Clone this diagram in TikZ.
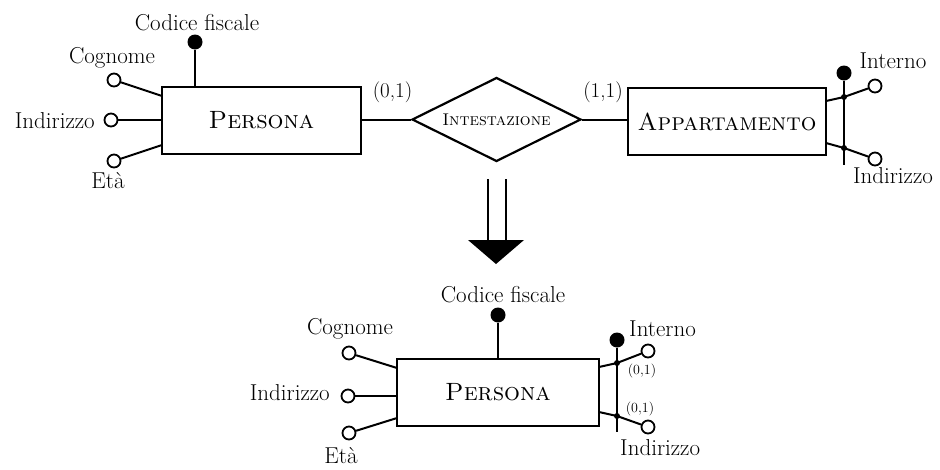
\documentclass[tikz,border=0pt]{standalone}
\usetikzlibrary{shapes.geometric}
\begin{document}
\begin{tikzpicture}[x=1pt,y=-1pt,
  lbl/.style={font=\fontsize{23}{26}\selectfont, inner sep=0pt, anchor=base},
  ent/.style={draw, line width=2.2pt, inner sep=0pt, minimum height=67pt,
              font=\fontsize{25}{28}\selectfont},
  rel/.style={diamond, draw, line width=2.2pt, inner sep=0pt, aspect=2,
              minimum width=169pt, minimum height=84pt,
              font=\fontsize{17}{20}\selectfont},
  attr/.style={circle, draw, fill=white, line width=1.8pt, minimum size=13pt, inner sep=0pt},
  keyattr/.style={circle, fill=black, minimum size=15pt, inner sep=0pt},
  junct/.style={circle, fill=black, minimum size=6pt, inner sep=0pt},
  link/.style={line width=2pt},
  card/.style={font=\fontsize{21}{24}\selectfont, inner sep=0pt, anchor=base},
  smallcard/.style={font=\fontsize{14}{16}\selectfont, inner sep=0pt, anchor=base}]
\useasboundingbox (0,0) rectangle (940,469);

% ---------------- upper schema ----------------
\node[ent, minimum width=199pt] (pers) at (261.5,120.5) {\textsc{Persona}};
\node[rel] (inte) at (496.5,119.5) {\textsc{Intestazione}};
\node[ent, minimum width=198pt, font=\fontsize{24.5}{28}\selectfont] (app) at (727,121.5) {\textsc{Appartamento}};

\draw[link] (pers.east |- inte.west) -- (inte.west);
\draw[link] (inte.east) -- (app.west |- inte.east);
\node[card] (c1) at (392.5,97) {(0,1)};
\node[card] (c2) at (603,97) {(1,1)};

% attributes of Persona
\node[attr] (cog) at (114,80) {};
\node[attr] (ind) at (111,120) {};
\node[attr] (eta) at (114,161) {};
\node[keyattr] (cf) at (195,42) {};
\coordinate (pcog) at (162,96);
\coordinate (pind) at (162,120);
\coordinate (peta) at (162,145);
\coordinate (pcf) at (195,87);
\draw[link] (pcog) -- (cog);
\draw[link] (pind) -- (ind);
\draw[link] (peta) -- (eta);
\draw[link] (pcf) -- (cf);
\node[lbl] (lcf) at (197,30) {Codice fiscale};
\node[lbl] (lcog) at (112,63) {Cognome};
\node[lbl, anchor=base east] (lind) at (95,128) {Indirizzo};
\node[lbl] (leta) at (108,188) {Età};

% composite identifier of Appartamento
\node[keyattr] (akey) at (844,73) {};
\coordinate (abot) at (844,165);
\draw[link] (akey) -- (abot);
\node[junct] (j1) at (844,97) {};
\node[junct] (j2) at (844,148) {};
\node[attr] (aint) at (875,86) {};
\node[attr] (aind) at (875,159) {};
\coordinate (aint0) at (826,101);
\coordinate (aind0) at (826,143);
\draw[link] (aint0) -- (j1.center) -- (aint);
\draw[link] (aind0) -- (j2.center) -- (aind);
\node[lbl] (laint) at (893,68) {Interno};
\node[lbl] (laind) at (893,183) {Indirizzo};

% ---------------- transformation arrow ----------------
\coordinate (ar1) at (488,179);
\coordinate (ar2) at (506,179);
\coordinate (ar1b) at (488,241);
\coordinate (ar2b) at (506,241);
\draw[line width=2pt] (ar1) -- (ar1b) (ar2) -- (ar2b);
\fill (468,240) -- (524,240) -- (496,264) -- cycle;

% ---------------- lower schema ----------------
\node[ent, minimum width=202pt] (pers2) at (498,392.5) {\textsc{Persona}};

\node[attr] (cog2) at (349,353) {};
\node[attr] (ind2) at (348,396) {};
\node[attr] (eta2) at (349,433) {};
\node[keyattr] (cf2) at (498,315) {};
\coordinate (qcog) at (397,368);
\coordinate (qind) at (397,396);
\coordinate (qeta) at (397,418);
\coordinate (qcf) at (498,359);
\draw[link] (qcog) -- (cog2);
\draw[link] (qind) -- (ind2);
\draw[link] (qeta) -- (eta2);
\draw[link] (qcf) -- (cf2);
\node[lbl] (lcf2) at (503,302) {Codice fiscale};
\node[lbl] (lcog2) at (350,334) {Cognome};
\node[lbl, anchor=base east] (lind2) at (330,400) {Indirizzo};
\node[lbl] (leta2) at (341,463) {Età};

% composite identifier with optional attributes
\node[keyattr] (bkey) at (617,340) {};
\coordinate (bbot) at (617,432);
\draw[link] (bkey) -- (bbot);
\node[junct] (k1) at (617,363) {};
\node[junct] (k2) at (617,416) {};
\node[attr] (bint) at (648,351) {};
\node[attr] (bind) at (648,427) {};
\coordinate (bint0) at (599,367);
\coordinate (bind0) at (599,412);
\draw[link] (bint0) -- (k1.center) -- (bint);
\draw[link] (bind0) -- (k2.center) -- (bind);
\node[lbl, anchor=base west] (lbint) at (629,336) {Interno};
\node[lbl, anchor=base west] (lbind) at (620,455) {Indirizzo};
\node[smallcard] (sc1) at (642,374) {(0,1)};
\node[smallcard] (sc2) at (640,412) {(0,1)};
\end{tikzpicture}
\end{document}
